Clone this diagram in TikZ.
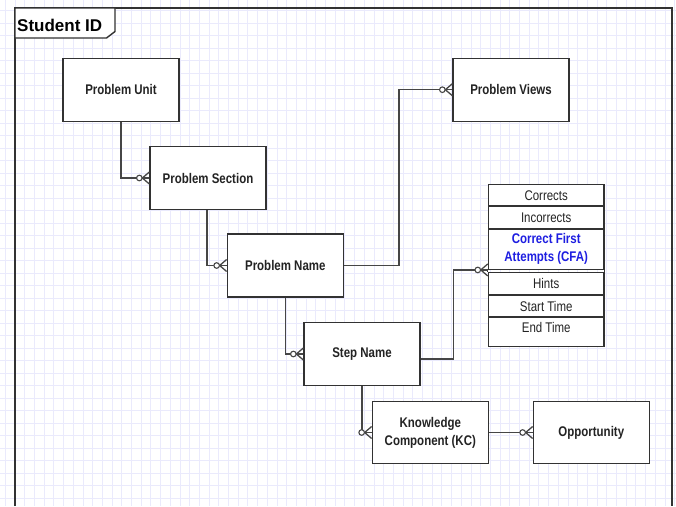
\documentclass[tikz,border=0pt]{standalone}
\usepackage{fontspec}
\setmainfont{Liberation Sans}
\newfontfamily\narrowfont[FakeStretch=0.82]{Liberation Sans}
\definecolor{gridc}{RGB}{234,234,252}
\definecolor{boxc}{RGB}{50,50,50}
\definecolor{linec}{RGB}{70,70,70}
\definecolor{txtc}{RGB}{35,35,35}
\definecolor{cfablue}{RGB}{30,30,225}
\tikzset{
  gridline/.style={draw=gridc, line width=0.8pt},
  entity/.style={draw=boxc, line width=1.3pt, fill=white, minimum width=116pt,
    minimum height=63pt, inner sep=0pt, text=txtc, align=center,
    font=\narrowfont\bfseries\fontsize{14}{18}\selectfont},
  attr/.style={draw=boxc, line width=1.2pt, fill=white, minimum width=115.7pt,
    inner sep=0pt, text=txtc, align=center,
    font=\narrowfont\fontsize{14}{17}\selectfont},
  conn/.style={draw=linec, line width=1.3pt},
  frameline/.style={draw=boxc, line width=1.4pt},
  crowfoot/.pic={
    \draw[conn] (-7,0) -- (0,-6) (-7,0) -- (0,6);
    \draw[conn, fill=white, line width=1.1pt] (-10,0) circle[radius=2.8pt];
  }
}
\begin{document}
\begin{tikzpicture}[x=1pt,y=-1pt]
\useasboundingbox (0,0) rectangle (676,506);
\fill[white] (0,0) rectangle (676,506);
% grid
\foreach \i in {-1,...,68} \draw[gridline] ({15+9.7*\i},0) -- ({15+9.7*\i},506);
\foreach \j in {0,...,39} \draw[gridline] (0,{10.5+12.5*\j}) -- (676,{10.5+12.5*\j});
% frame and tab
\draw[frameline] (15,506) -- (15,8) -- (672,8) -- (672,506);
\draw[frameline, fill=white] (15,8) -- (115,8) -- (115,31.5) -- (106.5,38) -- (15,38) -- cycle;
\node[anchor=base west, inner sep=0pt, font=\bfseries\fontsize{17}{20}\selectfont] (sid) at (17,31) {Student ID};
% entities
\node[entity] (pu) at (121,89.7) {Problem Unit};
\node[entity] (ps) at (208,178) {Problem Section};
\node[entity] (pn) at (285.3,265.5) {Problem Name};
\node[entity] (sn) at (362,354) {Step Name};
\node[entity] (pv) at (511,89.7) {Problem Views};
\node[entity, minimum height=62pt] (kc) at (430.3,432.5) {Knowledge\\Component (KC)};
\node[entity, minimum height=62pt] (op) at (591.3,432.5) {Opportunity};
% attribute table
\node[attr, minimum height=21.7pt] (cor) at (546.2,195.2) {Corrects};
\node[attr, minimum height=23pt] (inc) at (546.2,217.5) {Incorrects};
\node[attr, minimum height=40.3pt, text=cfablue, font=\narrowfont\bfseries\fontsize{14}{18}\selectfont] (cfa) at (546.2,249.2) {Correct First\\Attempts (CFA)};
\node[attr, minimum height=22.3pt] (hin) at (546.2,283.9) {Hints};
\node[attr, minimum height=22pt] (stt) at (546.2,306) {Start Time};
\node[attr, minimum height=29.7pt, text height=10pt, text depth=9.7pt] (ent) at (546.2,331.85) {End Time};
\draw[boxc, line width=1.2pt] (cfa.south west) -- (hin.north west) (cfa.south east) -- (hin.north east);
% connectors
\draw[conn] (pu.south) |- (ps.west);
\draw[conn] ([xshift=-1pt]ps.south) |- (pn.west);
\draw[conn] (pn.south) |- (sn.west);
\draw[conn] (pn.east) -- ++(55,0) |- (pv.west);
\draw[conn] ([yshift=-5pt]sn.east) -- ++(33,0) |- (cfa.south west);
\draw[conn] (sn.south) |- (kc.west);
\draw[conn] (kc.east) -- (op.west);
\pic at (ps.west) {crowfoot};
\pic at (pn.west) {crowfoot};
\pic at (sn.west) {crowfoot};
\pic at (pv.west) {crowfoot};
\pic at (cfa.south west) {crowfoot};
\pic at (kc.west) {crowfoot};
\pic at (op.west) {crowfoot};
\end{tikzpicture}
\end{document}
